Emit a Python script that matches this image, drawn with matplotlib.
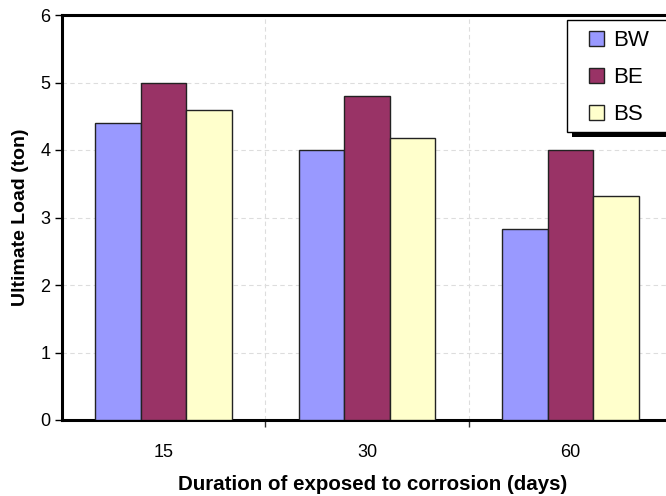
import matplotlib
matplotlib.use("Agg")
import matplotlib.pyplot as plt
from matplotlib.patches import Rectangle
import numpy as np

categories = ["15", "30", "60"]
series_names = ["BW", "BE", "BS"]
bw = [4.4, 4.0, 2.83]
be = [5.0, 4.8, 4.0]
bs = [4.6, 4.18, 3.32]
colors = ["#9999FF", "#993366", "#FFFFCC"]

plt.rcParams['font.family'] = ['Liberation Sans', 'DejaVu Sans']

W, H = 666, 496
fig = plt.figure(figsize=(W / 100, H / 100), dpi=100)
ax = fig.add_axes([62 / W, 76 / H, 610 / W, 405 / H])

x = np.arange(len(categories))
w = 0.224
for i, (vals, name, c) in enumerate(zip([bw, be, bs], series_names, colors)):
    ax.bar(x + (i - 1) * w, vals, width=w, color=c, edgecolor="#222222",
           linewidth=1.0, label=name, zorder=3)

ax.set_xlim(-0.5, 2.5)
ax.set_ylim(0, 6)
ax.set_yticks(range(0, 7))
ax.set_xticks(x)
ax.set_xticklabels(categories)
ax.set_xticks([0.5, 1.5], minor=True)
ax.tick_params(axis='x', which='major', length=0, pad=17, labelsize=13)
ax.tick_params(axis='x', which='minor', length=5, width=1, color="#333333", direction='out')
ax.tick_params(axis='y', length=5, width=1, labelsize=13, direction='out')

ax.grid(True, axis='y', which='major', linestyle=(0, (4, 3)), color="#DDDDDD", linewidth=0.8, zorder=0)
ax.grid(True, axis='x', which='minor', linestyle=(0, (4, 3)), color="#DDDDDD", linewidth=0.8, zorder=0)

for s in ['left', 'top', 'bottom']:
    ax.spines[s].set_linewidth(2.2)
    ax.spines[s].set_color("black")
ax.spines['right'].set_visible(False)

ax.set_xlabel("Duration of exposed to corrosion (days)", fontsize=14.8, fontweight='bold')
ax.xaxis.set_label_coords(0.51, -0.135)
ax.set_ylabel("Ultimate Load (ton)", fontsize=14, fontweight='bold', labelpad=8)

def px(xp, yp):
    return xp / W, 1 - yp / H

shadow = Rectangle(px(572, 137), (690 - 572) / W, (137 - 25) / H, transform=fig.transFigure,
                   facecolor="black", edgecolor="none", zorder=4)
frame = Rectangle(px(567, 132), (690 - 567) / W, (132 - 20) / H, transform=fig.transFigure,
                  facecolor="white", edgecolor="black", linewidth=1.0, zorder=5)
fig.patches.extend([shadow, frame])

leg = ax.legend(loc='upper left', bbox_to_anchor=px(589, 30), bbox_transform=fig.transFigure,
                fontsize=16, frameon=False,
                handlelength=0.68, handleheight=0.68, labelspacing=0.72, borderpad=0,
                handletextpad=0.4, borderaxespad=0)
leg.set_zorder(6)
fig.legends.append(leg)
ax.get_legend().remove()

fig.savefig("out.png", dpi=100)
